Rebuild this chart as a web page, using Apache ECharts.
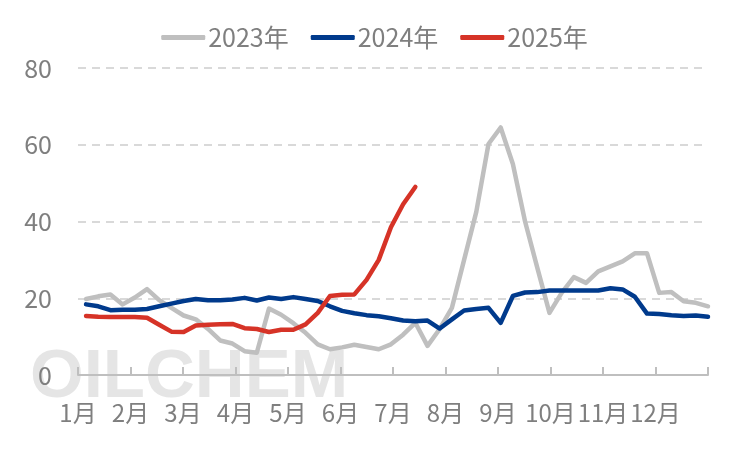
<!DOCTYPE html>
<html>
<head>
<meta charset="utf-8">
<script src="https://cdn.jsdelivr.net/npm/echarts@6/dist/echarts.min.js"></script>
<style>
html,body{margin:0;padding:0;background:#fff;}
#chart{width:749px;height:449px;}
</style>
</head>
<body>
<div id="chart"></div>
<script>
var monthLabels = ['1月','2月','3月','4月','5月','6月','7月','8月','9月','10月','11月','12月'];
var seriesNames = ['2023年','2024年','2025年'];
var values2023 = [19.8,20.5,21.0,18.4,20.2,22.4,19.5,17.5,15.5,14.5,12.0,9.0,8.2,6.2,5.8,17.3,15.7,13.5,11.0,8.0,6.7,7.2,7.9,7.3,6.7,8.0,10.5,13.6,7.6,12.0,17.5,30.0,42.5,60.2,64.5,55.0,40.0,28.0,16.2,21.4,25.5,24.0,27.0,28.3,29.6,31.7,31.7,21.4,21.6,19.2,18.8,17.9];
var values2024 = [18.4,17.9,16.9,17.0,17.0,17.2,17.9,18.6,19.3,19.8,19.5,19.5,19.7,20.1,19.4,20.2,19.8,20.3,19.8,19.3,17.9,16.7,16.1,15.6,15.3,14.8,14.2,14.0,14.2,12.1,14.5,16.8,17.2,17.5,13.6,20.6,21.5,21.6,22.0,22.0,22.0,22.0,22.0,22.6,22.3,20.4,16.0,15.9,15.6,15.4,15.5,15.2];
var values2025 = [15.4,15.2,15.1,15.1,15.1,14.9,13.1,11.3,11.2,12.9,13.1,13.2,13.3,12.2,12.0,11.2,11.8,11.8,13.2,16.2,20.6,20.9,21.0,24.8,30.0,38.5,44.5,49.0];
var yTicks = [0,20,40,60,80];
var watermarkText = 'OILCHEM';

function toPairs(arr){ return arr.map(function(v,i){ return [i,v]; }); }

var colors = ['#bfbfbf','#003a8c','#d63327'];
var textColor = '#7f7f7f';
var allValues = [values2023, values2024, values2025];

var chart = echarts.init(document.getElementById('chart'), null, {renderer:'canvas'});
var option = {
  animation: false,
  backgroundColor: '#ffffff',
  textStyle: { fontFamily: '"Noto Sans CJK SC", "Noto Sans", sans-serif' },
  graphic: [{
    type: 'text',
    left: 30,
    top: 343,
    z: -10,
    silent: true,
    style: {
      text: watermarkText,
      font: 'bold 69px "Liberation Sans", Arial, sans-serif',
      fill: 'rgba(215,215,215,0.65)'
    }
  }],
  legend: {
    top: 20,
    left: 'center',
    itemWidth: 44,
    itemHeight: 5,
    itemGap: 22,
    icon: 'roundRect',
    textStyle: { color: textColor, fontSize: 25, padding:[0,0,0,-2] },
    data: seriesNames
  },
  grid: { left: 78, right: 41, top: 68, bottom: 74, containLabel: false },
  xAxis: [{
    type: 'value',
    min: 0, max: 12, interval: 1,
    axisLine: { show: true, lineStyle: { color: '#bfbfbf', width: 2 } },
    axisTick: { show: true, inside: true, length: 8, lineStyle: { color: '#bfbfbf', width: 2 } },
    splitLine: { show: false },
    axisLabel: {
      color: textColor, fontSize: 24, margin: 26,
      formatter: function(v){ var k = Math.round(v); return k < 12 ? monthLabels[k] : ''; }
    }
  },{
    type: 'value',
    min: -0.66, max: 51,
    show: false,
    position: 'bottom'
  }],
  yAxis: {
    type: 'value',
    min: yTicks[0], max: yTicks[yTicks.length-1], interval: yTicks[1]-yTicks[0],
    axisLine: { show: false },
    axisTick: { show: false },
    axisLabel: { color: textColor, fontSize: 25, margin: 26 },
    splitLine: { show: true, lineStyle: { color: '#d9d9d9', width: 2, type: [8,6] } }
  },
  series: seriesNames.map(function(name, idx){
    return {
      name: name,
      type: 'line',
      xAxisIndex: 1,
      data: toPairs(allValues[idx]),
      showSymbol: false,
      symbol: 'none',
      color: colors[idx],
      lineStyle: { color: colors[idx], width: 4.5, join: 'round', cap: 'round' },
      z: 2 + idx
    };
  })
};
chart.setOption(option);
</script>
</body>
</html>
